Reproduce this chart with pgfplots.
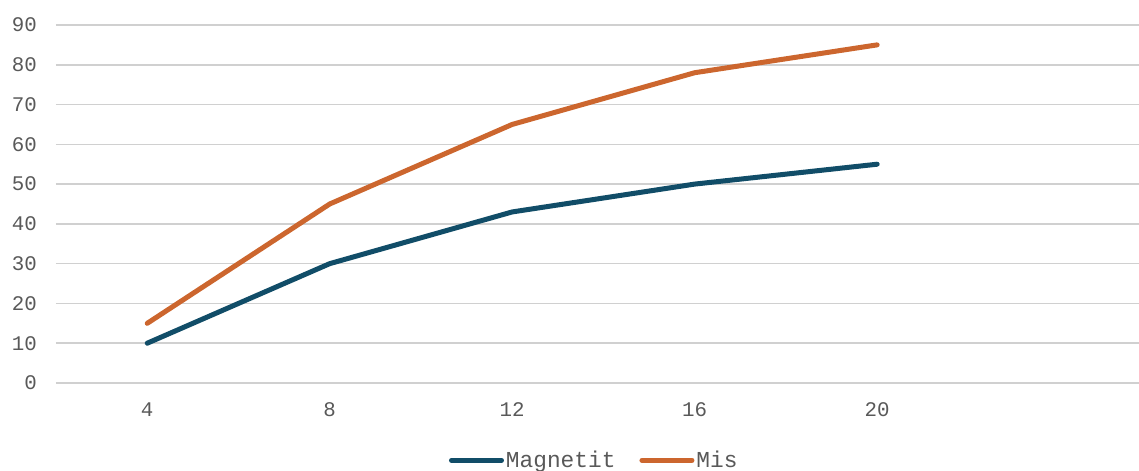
\documentclass[border=0pt]{standalone}
\usepackage{fontspec}
\setmainfont{Liberation Mono}
\usepackage{pgfplots}
\pgfplotsset{compat=1.18}
\usetikzlibrary{calc}
\definecolor{cblue}{RGB}{17,77,104}
\definecolor{corange}{RGB}{204,102,46}
\definecolor{cgrid}{RGB}{208,208,208}
\definecolor{ctext}{RGB}{89,89,89}
\begin{document}
\begin{tikzpicture}
\begin{axis}[
  name=ax,
  scale only axis,
  width=541.5pt, height=179pt,
  xmin=2, xmax=25.74,
  ymin=0, ymax=90,
  axis line style={draw=none},
  xtick={4,8,12,16,20},
  ytick={0,10,...,90},
  tick style={draw=none},
  ymajorgrids,
  grid style={cgrid, line width=0.75pt},
  tick label style={font=\fontsize{10.4}{12}\selectfont, text=ctext},
  /pgf/number format/assume math mode=true,
  yticklabel style={anchor=east, xshift=-6pt},
  xticklabel style={anchor=center, yshift=-13.5pt},
  legend columns=2,
  legend style={draw=none, at={(0.497,-0.216)}, anchor=center,
    font=\fontsize{11.4}{12}\selectfont, text=ctext,
    nodes={inner xsep=1pt},
    /tikz/every even column/.append style={column sep=11pt}},
  legend image code/.code={\draw[#1, line width=2.5pt, line cap=round] (0,0) -- (25pt,0);},
  clip=false,
]
\addplot[cblue, line width=2.5pt, line cap=round, line join=round] coordinates {(4,10) (8,30) (12,43) (16,50) (20,55)};
\addlegendentry{Magnetit}
\addplot[corange, line width=2.5pt, line cap=round, line join=round] coordinates {(4,15) (8,45) (12,65) (16,78) (20,85)};
\addlegendentry{Mis}
\end{axis}
\pgfresetboundingbox
\path ($(ax.south west)+(-28pt,-44pt)$) rectangle ($(ax.north east)+(0,12.5pt)$);
\end{tikzpicture}
\end{document}
